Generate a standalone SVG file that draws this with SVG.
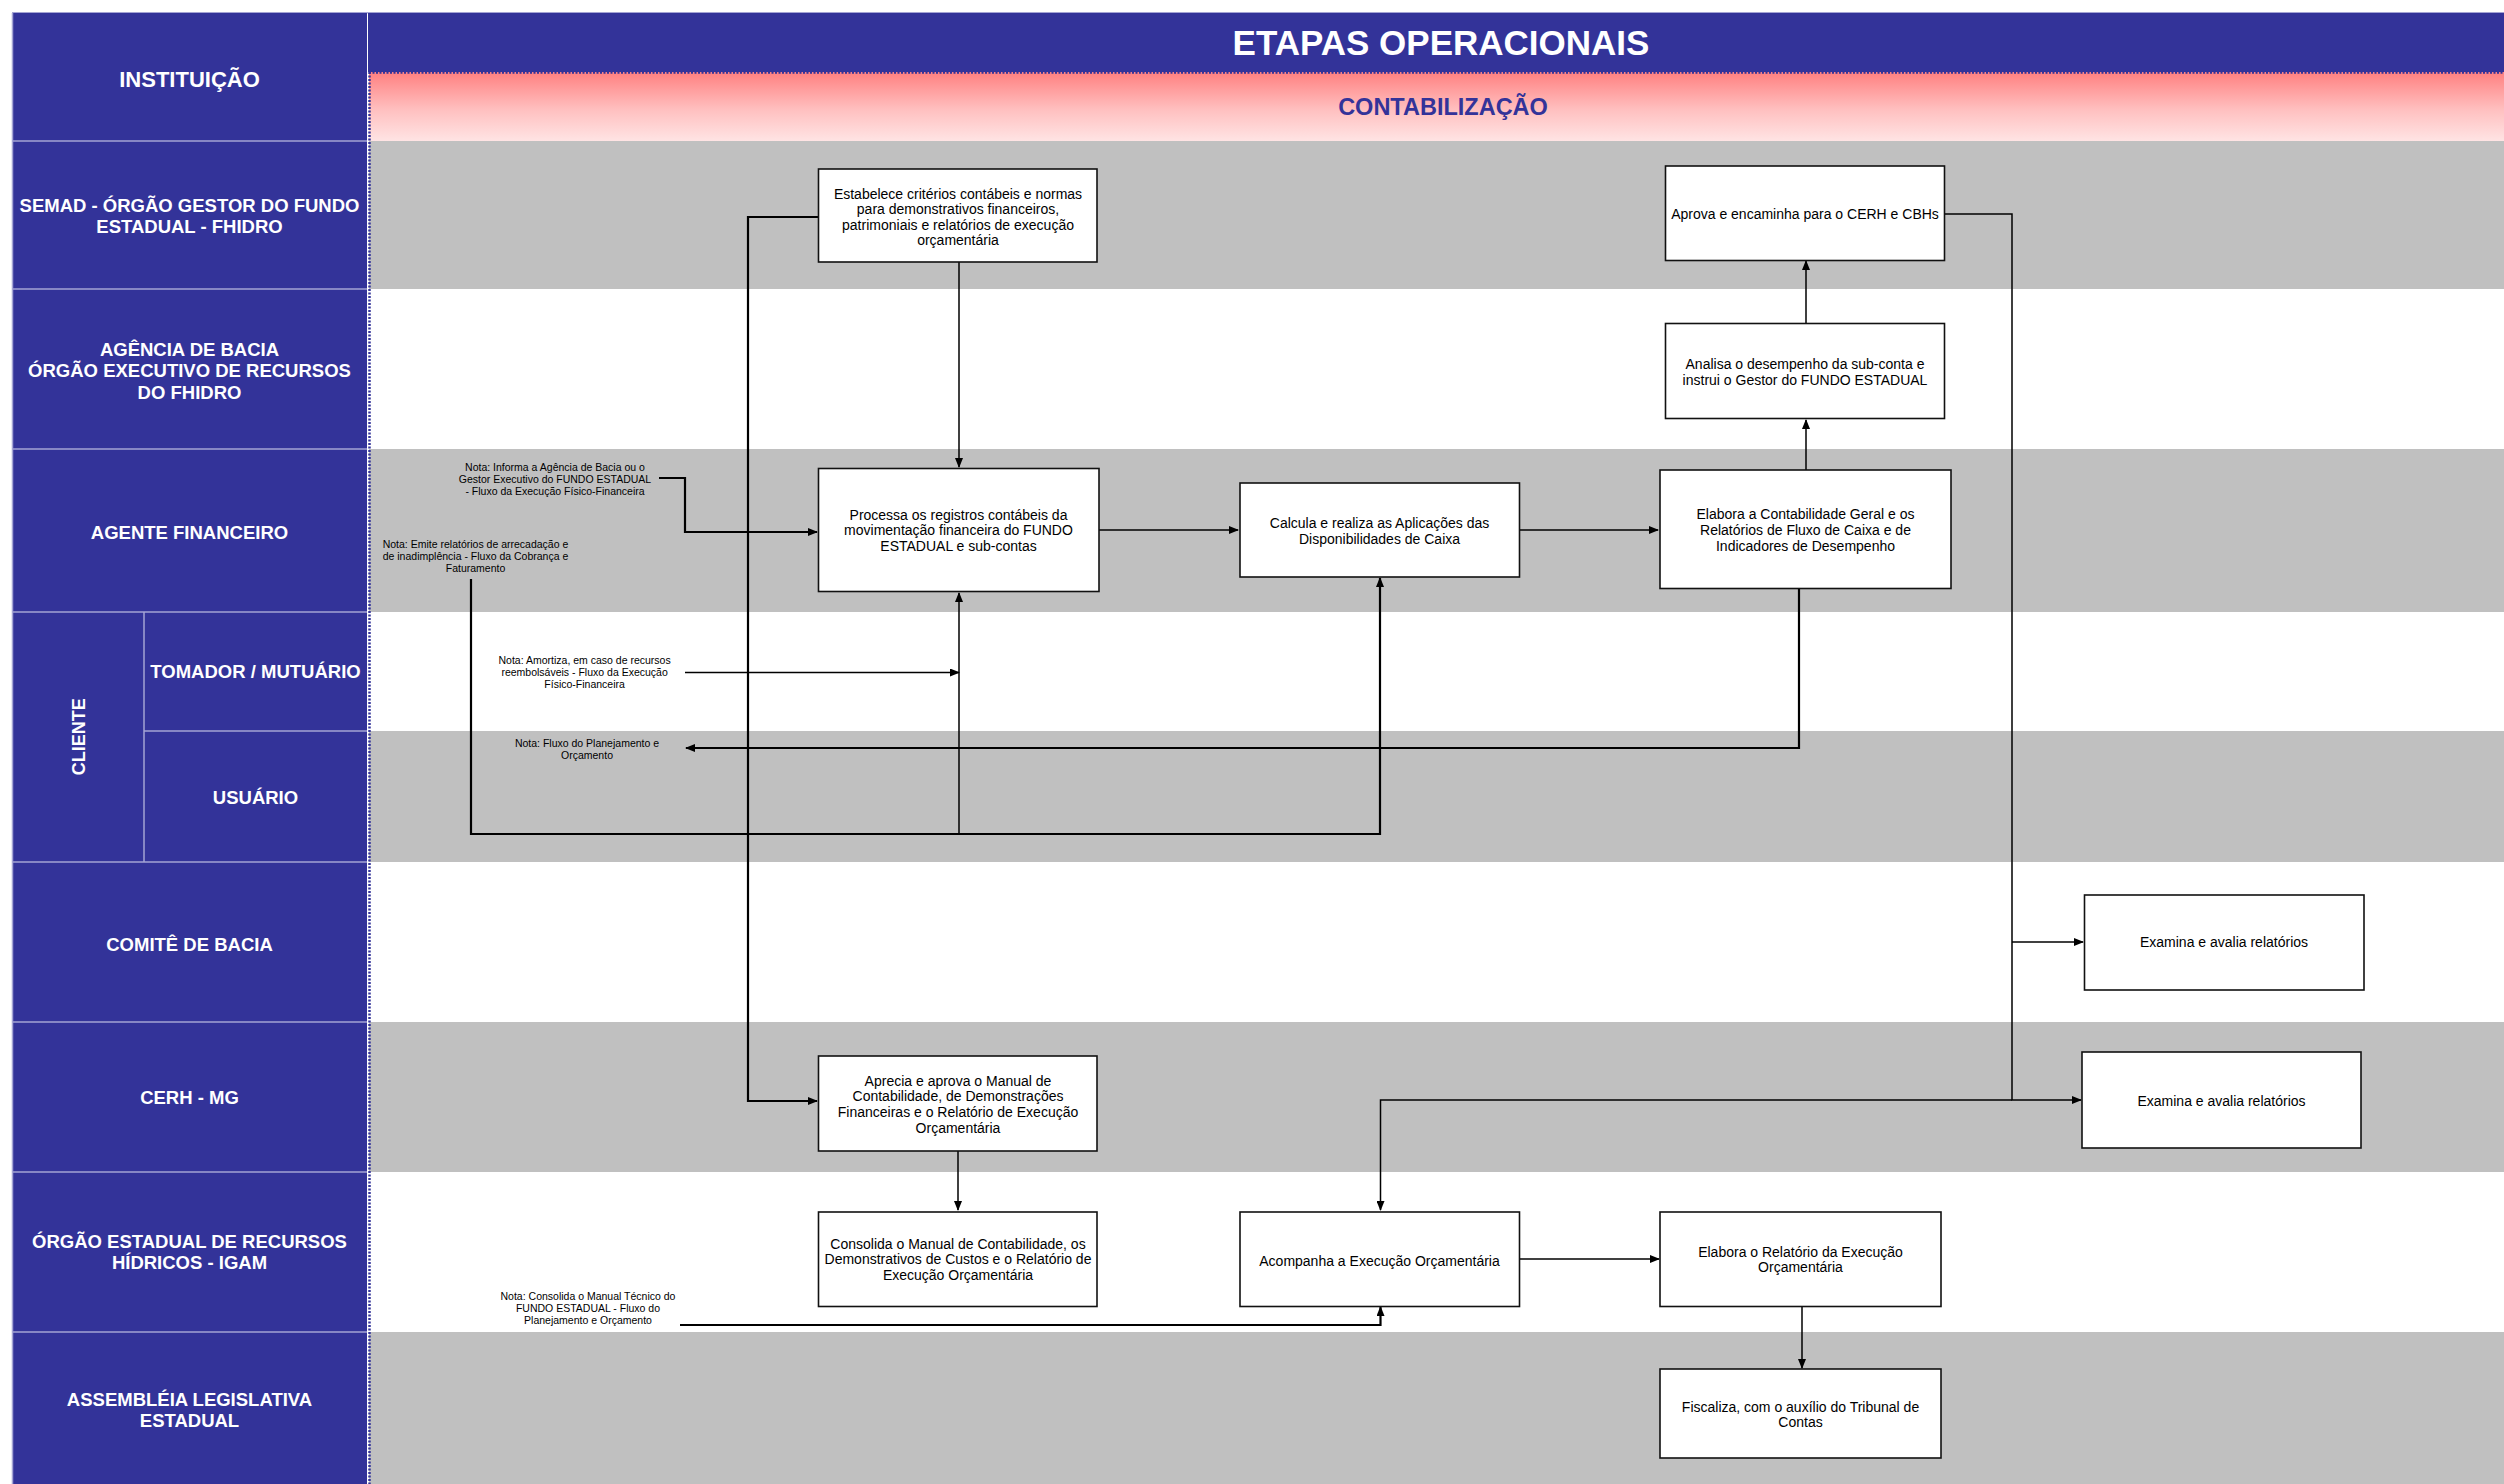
<svg xmlns="http://www.w3.org/2000/svg" width="2504" height="1484" viewBox="0 0 2504 1484">
<defs>
<linearGradient id="pink" x1="0" y1="0" x2="0" y2="1">
<stop offset="0" stop-color="#FF8080"/>
<stop offset="0.55" stop-color="#FFC0C0"/>
<stop offset="1" stop-color="#FFE4E4"/>
</linearGradient>
<marker id="arr" markerWidth="10" markerHeight="8" refX="9" refY="4" orient="auto" markerUnits="userSpaceOnUse">
<path d="M0,0 L10,4 L0,8 Z" fill="#000"/>
</marker>
<style>
.lane{font-family:"Liberation Sans",Arial,sans-serif;font-weight:bold;font-size:18.5px;fill:#fff;text-anchor:middle}
.box rect{fill:#fff;stroke:#111;stroke-width:1.6}
.box text,.bt{font-family:"Liberation Sans",Arial,sans-serif;font-size:14px;fill:#000;text-anchor:middle}
.note{font-family:"Liberation Sans",Arial,sans-serif;font-size:10.5px;fill:#000;text-anchor:middle}
.c{fill:none;stroke:#000;stroke-width:1.5}
.ct{fill:none;stroke:#000;stroke-width:2.2}
.sep{stroke:#A4A4D4;stroke-width:1.5}
</style>
</defs>
<rect width="2504" height="1484" fill="#fff"/>
<!-- lane bands -->
<g id="bands">
<rect x="369" y="141" width="2135" height="148" fill="#C0C0C0"/>
<rect x="369" y="449" width="2135" height="163" fill="#C0C0C0"/>
<rect x="369" y="731" width="2135" height="131" fill="#C0C0C0"/>
<rect x="369" y="1022" width="2135" height="150" fill="#C0C0C0"/>
<rect x="369" y="1332" width="2135" height="152" fill="#C0C0C0"/>
</g>
<!-- header -->
<g id="header">
<rect x="12" y="12" width="2492" height="1.5" fill="#A4A4D4"/>
<rect x="368" y="13" width="2136" height="59" fill="#333399"/>
<rect x="369" y="72" width="2135" height="69" fill="url(#pink)"/>
<text x="1441" y="55" font-family="'Liberation Sans',Arial,sans-serif" font-weight="bold" font-size="35" fill="#fff" text-anchor="middle">ETAPAS OPERACIONAIS</text>
<text x="1443" y="115" font-family="'Liberation Sans',Arial,sans-serif" font-weight="bold" font-size="23.5" fill="#333399" text-anchor="middle">CONTABILIZAÇÃO</text>
<line x1="369" y1="72.5" x2="2504" y2="72.5" stroke="#333399" stroke-width="2.5" stroke-dasharray="2 1.5"/>
<line x1="369.5" y1="72" x2="369.5" y2="1484" stroke="#333399" stroke-width="2.5" stroke-dasharray="2 1.5"/>
</g>
<!-- left column -->
<g id="institutions">
<rect x="12" y="13" width="355" height="1471" fill="#333399"/>
<line class="sep" x1="12" y1="141" x2="367" y2="141"/>
<line class="sep" x1="12" y1="289" x2="367" y2="289"/>
<line class="sep" x1="12" y1="449" x2="367" y2="449"/>
<line class="sep" x1="12" y1="612" x2="367" y2="612"/>
<line class="sep" x1="144" y1="731" x2="367" y2="731"/>
<line class="sep" x1="144" y1="612" x2="144" y2="862"/>
<line class="sep" x1="12" y1="862" x2="367" y2="862"/>
<line class="sep" x1="12" y1="1022" x2="367" y2="1022"/>
<line class="sep" x1="12" y1="1172" x2="367" y2="1172"/>
<line class="sep" x1="12" y1="1332" x2="367" y2="1332"/>
<line class="sep" x1="12.5" y1="13" x2="12.5" y2="1484"/>
<text class="lane" x="189.5" y="86.5" style="font-size:22px">INSTITUIÇÃO</text>
<g id="lane-semad"><text class="lane" x="189.5" y="211.5">SEMAD - ÓRGÃO GESTOR DO FUNDO</text><text class="lane" x="189.5" y="233">ESTADUAL - FHIDRO</text></g>
<g id="lane-agencia"><text class="lane" x="189.5" y="355.5">AGÊNCIA DE BACIA</text><text class="lane" x="189.5" y="377">ÓRGÃO EXECUTIVO DE RECURSOS</text><text class="lane" x="189.5" y="398.5">DO FHIDRO</text></g>
<g id="lane-agente"><text class="lane" x="189.5" y="538.5">AGENTE FINANCEIRO</text></g>
<g id="lane-cliente"><text class="lane" transform="translate(84.5,736.7) rotate(-90)" x="0" y="0" style="font-size:18px">CLIENTE</text></g>
<g id="lane-tomador"><text class="lane" x="255.5" y="678">TOMADOR / MUTUÁRIO</text></g>
<g id="lane-usuario"><text class="lane" x="255.5" y="803.5">USUÁRIO</text></g>
<g id="lane-comite"><text class="lane" x="189.5" y="950.5">COMITÊ DE BACIA</text></g>
<g id="lane-cerh"><text class="lane" x="189.5" y="1104">CERH - MG</text></g>
<g id="lane-igam"><text class="lane" x="189.5" y="1248">ÓRGÃO ESTADUAL DE RECURSOS</text><text class="lane" x="189.5" y="1268.5">HÍDRICOS - IGAM</text></g>
<g id="lane-assembleia"><text class="lane" x="189.5" y="1405.5">ASSEMBLÉIA LEGISLATIVA</text><text class="lane" x="189.5" y="1427">ESTADUAL</text></g>
</g>
<!-- connectors -->
<g id="connectors">
<path class="c" d="M959,262 V467" marker-end="url(#arr)"/>
<path class="ct" d="M818,217 H748 V1101 H817" marker-end="url(#arr)"/>
<path class="ct" d="M659,478 H685 V532 H817" marker-end="url(#arr)"/>
<path class="c" d="M1099,530 H1238" marker-end="url(#arr)"/>
<path class="c" d="M1519,530 H1658" marker-end="url(#arr)"/>
<path class="c" d="M1806,470 V420" marker-end="url(#arr)"/>
<path class="c" d="M1806,323 V261" marker-end="url(#arr)"/>
<path class="c" d="M1944,214 H2012 V1100 H2081" marker-end="url(#arr)"/>
<path class="c" d="M2012,942 H2083" marker-end="url(#arr)"/>
<path class="c" d="M2012,1100 H1380.5 V1210" marker-end="url(#arr)"/>
<path class="ct" d="M471,579 V834 H1380 V578" marker-end="url(#arr)"/>
<path class="c" d="M959,834 V593" marker-end="url(#arr)"/>
<path class="c" d="M685,672.5 H959" marker-end="url(#arr)"/>
<path class="ct" d="M1799,588 V748 H686" marker-end="url(#arr)"/>
<path class="c" d="M958,1151 V1210" marker-end="url(#arr)"/>
<path class="ct" d="M680,1325 H1380.5 V1307" marker-end="url(#arr)"/>
<path class="c" d="M1519,1259 H1659" marker-end="url(#arr)"/>
<path class="c" d="M1802,1307 V1368" marker-end="url(#arr)"/>
</g>
<!-- notes -->
<g id="note-informa"><text class="note" x="555" y="470.5">Nota: Informa a Agência de Bacia ou o</text><text class="note" x="555" y="482.5">Gestor Executivo do FUNDO ESTADUAL</text><text class="note" x="555" y="494.5">-  Fluxo da Execução Físico-Financeira</text></g>
<g id="note-emite"><text class="note" x="475.5" y="548">Nota: Emite relatórios de arrecadação e</text><text class="note" x="475.5" y="560">de inadimplência - Fluxo da Cobrança e</text><text class="note" x="475.5" y="572">Faturamento</text></g>
<g id="note-amortiza"><text class="note" x="584.6" y="664">Nota: Amortiza, em caso de recursos</text><text class="note" x="584.6" y="676">reembolsáveis - Fluxo da Execução</text><text class="note" x="584.6" y="688">Físico-Financeira</text></g>
<g id="note-planejamento"><text class="note" x="587" y="747">Nota: Fluxo do Planejamento  e</text><text class="note" x="587" y="759">Orçamento</text></g>
<g id="note-consolida"><text class="note" x="588" y="1299.5">Nota: Consolida o Manual Técnico do</text><text class="note" x="588" y="1311.5">FUNDO ESTADUAL - Fluxo do</text><text class="note" x="588" y="1323.5">Planejamento e Orçamento</text></g>
<!-- nodes -->
<g id="n-estabelece" class="box"><rect x="818.5" y="169" width="278.5" height="93"/>
<text x="958" y="198.5">Estabelece critérios contábeis e normas</text><text x="958" y="214">para demonstrativos financeiros,</text><text x="958" y="229.7">patrimoniais e relatórios de execução</text><text x="958" y="245.4">orçamentária</text></g>
<g id="n-aprova" class="box"><rect x="1665.5" y="166" width="279" height="94.5"/>
<text x="1805" y="219">Aprova e encaminha  para o CERH e CBHs</text></g>
<g id="n-analisa" class="box"><rect x="1665.5" y="323.5" width="279" height="95"/>
<text x="1805" y="369">Analisa o desempenho da sub-conta e</text><text x="1805" y="384.7">instrui o Gestor do FUNDO ESTADUAL</text></g>
<g id="n-processa" class="box"><rect x="818.5" y="468.5" width="280.5" height="123"/>
<text x="958.5" y="519.5">Processa os registros contábeis da</text><text x="958.5" y="535">movimentação financeira do FUNDO</text><text x="958.5" y="551">ESTADUAL e sub-contas</text></g>
<g id="n-calcula" class="box"><rect x="1240" y="483" width="279.5" height="94"/>
<text x="1379.5" y="528">Calcula e realiza as Aplicações das</text><text x="1379.5" y="543.7">Disponibilidades de Caixa</text></g>
<g id="n-elabora-contab" class="box"><rect x="1660" y="470" width="291" height="118.5"/>
<text x="1805.5" y="519">Elabora a Contabilidade  Geral e os</text><text x="1805.5" y="534.7">Relatórios de Fluxo  de Caixa e de</text><text x="1805.5" y="550.5">Indicadores de Desempenho</text></g>
<g id="n-examina-comite" class="box"><rect x="2084.5" y="895" width="279.5" height="95"/>
<text x="2224" y="947">Examina e avalia relatórios</text></g>
<g id="n-examina-cerh" class="box"><rect x="2082" y="1052" width="279" height="96"/>
<text x="2221.5" y="1105.5">Examina e avalia relatórios</text></g>
<g id="n-aprecia" class="box"><rect x="818.5" y="1056" width="278.5" height="95"/>
<text x="958" y="1085.5">Aprecia e aprova o Manual de</text><text x="958" y="1101">Contabilidade, de Demonstrações</text><text x="958" y="1117">Financeiras e o Relatório de Execução</text><text x="958" y="1133">Orçamentária</text></g>
<g id="n-consolida" class="box"><rect x="818.5" y="1212" width="278.5" height="94.5"/>
<text x="958" y="1248.5">Consolida o Manual de Contabilidade, os</text><text x="958" y="1264">Demonstrativos de Custos e o Relatório de</text><text x="958" y="1280">Execução Orçamentária</text></g>
<g id="n-acompanha" class="box"><rect x="1240" y="1212" width="279.5" height="94.5"/>
<text x="1379.5" y="1265.5">Acompanha a Execução Orçamentária</text></g>
<g id="n-elabora-rel" class="box"><rect x="1660" y="1212" width="281" height="94.5"/>
<text x="1800.5" y="1256.5">Elabora o Relatório da Execução</text><text x="1800.5" y="1272">Orçamentária</text></g>
<g id="n-fiscaliza" class="box"><rect x="1660" y="1369" width="281" height="89"/>
<text x="1800.5" y="1411.5">Fiscaliza, com o auxílio do Tribunal de</text><text x="1800.5" y="1427">Contas</text></g>
</svg>
